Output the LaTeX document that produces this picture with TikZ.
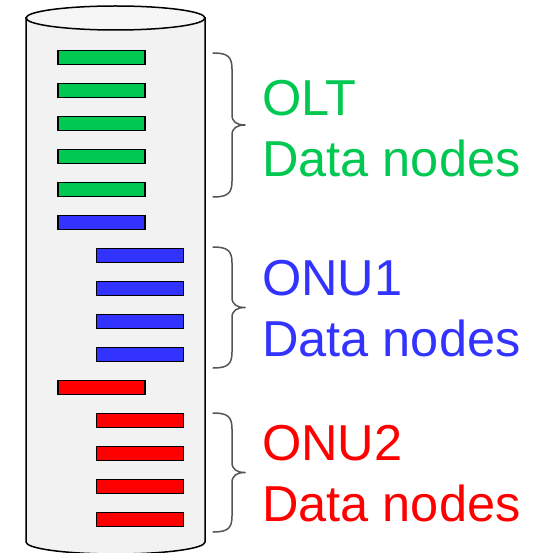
\documentclass[tikz,border=0pt]{standalone}
\usepackage{fontspec}
\setmainfont{Liberation Sans}
\definecolor{cylfill}{RGB}{242,242,242}
\definecolor{topfill}{RGB}{246,246,246}
\definecolor{olt}{RGB}{0,200,80}
\definecolor{onua}{RGB}{51,51,255}
\definecolor{onub}{RGB}{255,0,0}
\definecolor{bracegray}{RGB}{85,85,85}
\begin{document}
\begin{tikzpicture}[x=1pt,y=-1pt,
  bar/.style={draw=black,line width=1.5pt,minimum width=87pt,minimum height=14pt,inner sep=0pt},
  bracestyle/.style={draw=bracegray,line width=1.5pt,line cap=round,line join=round},
  label/.style={anchor=west,inner sep=0pt,align=left,font=\fontsize{50.5}{61}\selectfont}]
\useasboundingbox (0,0) rectangle (534,553);
% cylinder
\path[fill=cylfill,draw=black,line width=1.5pt] (26,18) -- (26,542)
  arc[start angle=180,end angle=360,x radius=89.5pt,y radius=12pt] -- (205,18) -- cycle;
\draw[fill=topfill,line width=1.5pt] (115.5,18) ellipse [x radius=89.5pt,y radius=12pt];
% bars
\node[bar,fill=olt] (g1) at (101.5,57.5) {};
\node[bar,fill=olt] (g2) at (101.5,90.5) {};
\node[bar,fill=olt] (g3) at (101.5,123.5) {};
\node[bar,fill=olt] (g4) at (101.5,156.5) {};
\node[bar,fill=olt] (g5) at (101.5,189.5) {};
\node[bar,fill=onua] (b0) at (101.5,222.5) {};
\node[bar,fill=onua] (b1) at (140,255.5) {};
\node[bar,fill=onua] (b2) at (140,288.5) {};
\node[bar,fill=onua] (b3) at (140,321.5) {};
\node[bar,fill=onua] (b4) at (140,354.5) {};
\node[bar,fill=onub] (r0) at (101.5,387.5) {};
\node[bar,fill=onub] (r1) at (140,420.5) {};
\node[bar,fill=onub] (r2) at (140,453.5) {};
\node[bar,fill=onub] (r3) at (140,486.5) {};
\node[bar,fill=onub] (r4) at (140,519.5) {};
% braces
\foreach \t/\m/\b in {53/125/197, 247/307.5/368, 413/472.5/532}{
  \draw[bracestyle] (213,\t) .. controls (228,\t) and (232,\t+4) .. (232,\t+16)
    -- (232,\m-10) .. controls (232,\m-3) and (237,\m) .. (245,\m)
    .. controls (237,\m) and (232,\m+3) .. (232,\m+10)
    -- (232,\b-16) .. controls (232,\b-4) and (228,\b) .. (213,\b);
}
% labels
\node[label,text=olt] (tolt) at (262,128.5) {OLT\\Data nodes};
\node[label,text=onua] (tonu1) at (262,309) {ONU1\\Data nodes};
\node[label,text=onub] (tonu2) at (262,474) {ONU2\\Data nodes};
\end{tikzpicture}
\end{document}
